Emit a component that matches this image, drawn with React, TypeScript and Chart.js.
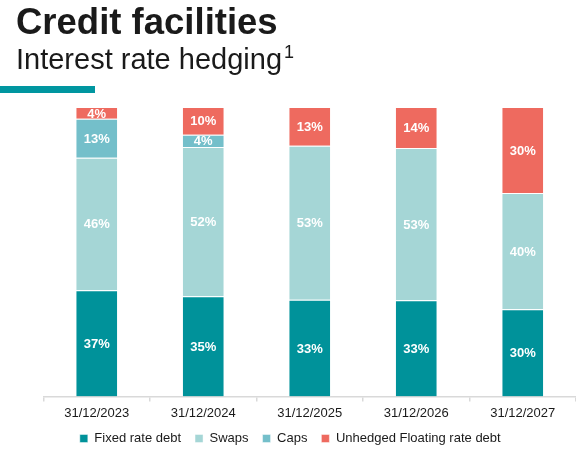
import React, { useEffect, useRef } from "react";
import { Chart, registerables } from "chart.js";

Chart.register(...registerables);

const categories = ["31/12/2023", "31/12/2024", "31/12/2025", "31/12/2026", "31/12/2027"];
const fixedRate = [36.7, 34.6, 33.4, 33.2, 30.1];
const swaps = [45.8, 51.6, 53.2, 52.6, 40.2];
const caps = [13.4, 4.2, 0, 0, 0];
const unhedged = [4.1, 9.6, 13.4, 14.2, 29.7];

const seriesNames = ["Fixed rate debt", "Swaps", "Caps", "Unhedged Floating rate debt"];
const seriesColors = ["#00929A", "#A5D6D6", "#74BFCA", "#EE6A5F"];

const FONT = "'Liberation Sans', Arial, sans-serif";

const labelPlugin = {
  id: "segLabels",
  afterDatasetsDraw(chart: any) {
    const ctx = chart.ctx;
    ctx.save();
    ctx.fillStyle = "#ffffff";
    ctx.font = `bold 13px ${FONT}`;
    ctx.textAlign = "center";
    ctx.textBaseline = "middle";
    chart.data.datasets.forEach((ds: any, di: number) => {
      const meta = chart.getDatasetMeta(di);
      meta.data.forEach((el: any, i: number) => {
        const v = ds.data[i];
        if (!v) return;
        const p = el.getProps(["x", "y", "base"], true);
        ctx.fillText(`${Math.round(v)}%`, p.x, (p.y + p.base) / 2 + 1);
      });
    });
    ctx.restore();
  },
};

export default function App() {
  const canvasRef = useRef<HTMLCanvasElement | null>(null);

  useEffect(() => {
    if (!canvasRef.current) return;
    const seriesData = [fixedRate, swaps, caps, unhedged];
    const chart = new Chart(canvasRef.current, {
      type: "bar",
      data: {
        labels: categories,
        datasets: seriesNames.map((name, i) => ({
          label: name,
          data: seriesData[i],
          backgroundColor: seriesColors[i],
          borderColor: "rgba(255,255,255,0.45)",
          borderWidth: 1,
          categoryPercentage: 1,
          barPercentage: 0.4,
        })),
      },
      options: {
        animation: false,
        responsive: true,
        maintainAspectRatio: false,
        layout: { padding: { left: 2, right: -2.5, top: 107, bottom: 1 } },
        scales: {
          x: {
            stacked: true,
            grid: {
              offset: true,
              drawOnChartArea: false,
              drawTicks: true,
              tickLength: 5,
              color: "#D9D9D9",
              lineWidth: 1.5,
            },
            border: { display: true, color: "#D9D9D9", width: 1.5 },
            ticks: { font: { family: FONT, size: 13 }, color: "#1a1a1a", padding: 4 },
            afterFit: (scale: any) => {
              scale.height = scale.height - 7;
            },
          },
          y: {
            stacked: true,
            min: 0,
            max: 100,
            display: true,
            grid: { display: false, drawTicks: false },
            border: { display: false },
            ticks: { display: false },
            afterFit: (scale: any) => {
              scale.width = 41.5;
            },
          },
        },
        plugins: {
          legend: {
            position: "bottom",
            labels: {
              boxWidth: 8,
              boxHeight: 8,
              padding: 14,
              color: "#1a1a1a",
              font: { family: FONT, size: 13 },
            },
          },
          tooltip: { enabled: false },
        },
      },
      plugins: [labelPlugin],
    });
    return () => chart.destroy();
  }, []);

  return (
    <div style={{ position: "absolute", left: 0, top: 0, width: 576, height: 456, background: "#fff", overflow: "hidden" }}>
      <div style={{ position: "absolute", left: 0, top: 0, width: 576, height: 456 }}>
        <canvas ref={canvasRef} />
      </div>
      <div
        style={{
          position: "absolute",
          left: 16,
          top: 4,
          fontFamily: FONT,
          fontWeight: "bold",
          fontSize: 36.5,
          lineHeight: "36px",
          color: "#1a1a1a",
          whiteSpace: "nowrap",
        }}
      >
        Credit facilities
      </div>
      <div
        style={{
          position: "absolute",
          left: 16,
          top: 45,
          fontFamily: FONT,
          fontSize: 29,
          lineHeight: "29px",
          color: "#1a1a1a",
          whiteSpace: "nowrap",
        }}
      >
        Interest rate hedging
        <span style={{ fontSize: 18, position: "relative", top: -11, marginLeft: 2 }}>1</span>
      </div>
      <div style={{ position: "absolute", left: 0, top: 86, width: 95, height: 7, background: "#0096A0" }} />
    </div>
  );
}
